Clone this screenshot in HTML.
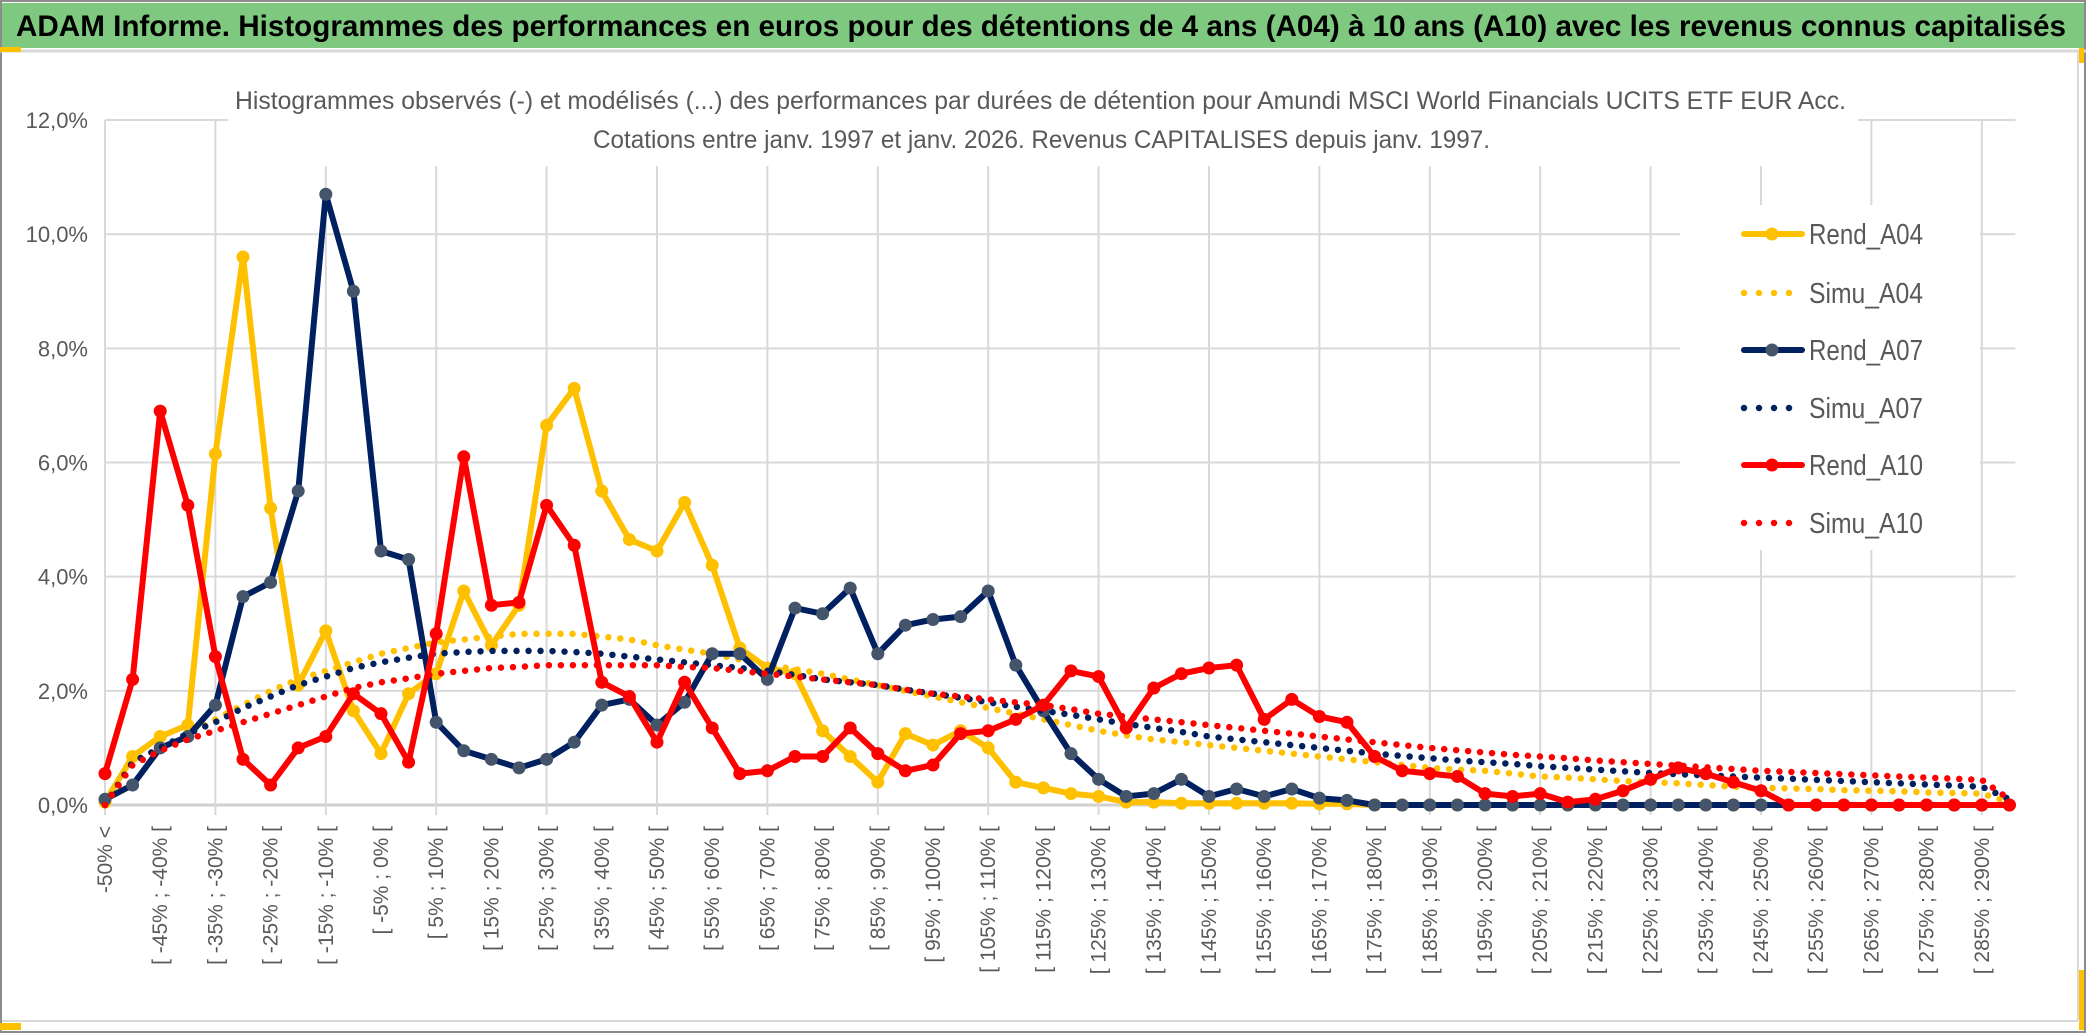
<!DOCTYPE html>
<html><head><meta charset="utf-8"><style>
html,body{margin:0;padding:0;background:#fff;width:2086px;height:1033px;overflow:hidden}
svg{display:block}
text{font-family:"Liberation Sans Narrow","Liberation Sans",sans-serif}
</style></head><body>
<svg id="chart" width="2086" height="1033" viewBox="0 0 2086 1033">
<rect x="0" y="0" width="2086" height="1033" fill="#fff"/>
<rect x="1" y="1" width="2084" height="1031" fill="none" stroke="#8c8c8c" stroke-width="2"/>
<rect x="2" y="3" width="2082" height="45" fill="#7ec87f"/>
<line x1="0" y1="51" x2="2086" y2="51" stroke="#d9d9d9" stroke-width="3"/>
<rect x="0" y="47" width="21" height="5" fill="#ffc000"/>
<rect x="0" y="1023" width="21" height="7" fill="#ffc000"/>
<rect x="2079" y="970" width="5" height="60" fill="#ffc000"/>
<rect x="2079" y="48" width="5" height="15" fill="#ffc000"/>
<line x1="2" y1="1021" x2="2080" y2="1021" stroke="#d9d9d9" stroke-width="2"/>
<line x1="2078" y1="52" x2="2078" y2="1021" stroke="#d9d9d9" stroke-width="2"/>
<text x="16" y="36" font-size="30" font-weight="bold" fill="#000" textLength="2050" lengthAdjust="spacingAndGlyphs">ADAM Informe. Histogrammes des performances en euros pour des détentions de 4 ans (A04) à 10 ans (A10) avec les revenus connus capitalisés</text>
<g id="grid"></g>
<g id="yaxis"></g>
<g id="xaxis"></g>
<rect x="228" y="78" width="1630" height="88" fill="#fff"/>
<text x="235" y="109" font-size="25" fill="#595959" textLength="1611" lengthAdjust="spacingAndGlyphs">Histogrammes observés (-) et modélisés (...) des performances par durées de détention pour Amundi MSCI World Financials UCITS ETF EUR Acc.</text>
<text x="593" y="148" font-size="25" fill="#595959" textLength="897" lengthAdjust="spacingAndGlyphs">Cotations entre janv. 1997 et janv. 2026. Revenus CAPITALISES depuis janv. 1997.</text>
<g id="series"></g>
<g id="legend"></g>
</svg>
<script>
const categoryCount = 70;
const yTicks = [0, 2, 4, 6, 8, 10, 12];
const rendA04 = [0.05,0.85,1.2,1.4,6.15,9.6,5.2,2.1,3.05,1.65,0.9,1.95,2.3,3.75,2.8,3.5,6.65,7.3,5.5,4.65,4.45,5.3,4.2,2.75,2.4,2.3,1.3,0.85,0.4,1.25,1.05,1.3,1.0,0.4,0.3,0.2,0.15,0.05,0.05,0.03,0.03,0.03,0.03,0.03,0.02,0.02,0,0,0,0,0,0,0,0,0,0,0,0,0,0,0,0,0,0,0,0,0,0,0,0];
const simuA04 = [0,0.75,1.0,1.25,1.5,1.75,2.0,2.2,2.35,2.5,2.65,2.75,2.85,2.9,2.95,3.0,3.0,3.0,2.95,2.9,2.8,2.72,2.65,2.55,2.45,2.38,2.3,2.2,2.1,2.0,1.9,1.8,1.7,1.6,1.5,1.4,1.3,1.22,1.15,1.1,1.05,1.0,0.95,0.9,0.85,0.8,0.75,0.7,0.65,0.62,0.6,0.55,0.5,0.48,0.45,0.42,0.4,0.38,0.35,0.32,0.3,0.29,0.28,0.26,0.25,0.24,0.22,0.21,0.2,0.05];
const rendA07 = [0.1,0.35,1.0,1.2,1.75,3.65,3.9,5.5,10.7,9.0,4.45,4.3,1.45,0.95,0.8,0.65,0.8,1.1,1.75,1.85,1.4,1.8,2.65,2.65,2.2,3.45,3.35,3.8,2.65,3.15,3.25,3.3,3.75,2.45,1.65,0.9,0.45,0.15,0.2,0.45,0.15,0.28,0.15,0.28,0.12,0.08,0,0,0,0,0,0,0,0,0,0,0,0,0,0,0,0,0,0,0,0,0,0,0,0];
const simuA07 = [0,0.75,1.0,1.25,1.45,1.7,1.9,2.1,2.25,2.4,2.5,2.58,2.65,2.68,2.7,2.7,2.7,2.68,2.65,2.6,2.55,2.5,2.45,2.4,2.35,2.28,2.2,2.15,2.1,2.02,1.95,1.88,1.8,1.72,1.65,1.58,1.5,1.42,1.35,1.28,1.2,1.15,1.1,1.05,1.0,0.95,0.9,0.86,0.82,0.78,0.75,0.72,0.68,0.65,0.62,0.59,0.56,0.54,0.52,0.5,0.48,0.46,0.44,0.42,0.4,0.38,0.36,0.34,0.32,0.1];
const rendA10 = [0.55,2.2,6.9,5.25,2.6,0.8,0.35,1.0,1.2,1.95,1.6,0.75,3.0,6.1,3.5,3.55,5.25,4.55,2.15,1.9,1.1,2.15,1.35,0.55,0.6,0.85,0.85,1.35,0.9,0.6,0.7,1.25,1.3,1.5,1.75,2.35,2.25,1.35,2.05,2.3,2.4,2.45,1.5,1.85,1.55,1.45,0.85,0.6,0.55,0.5,0.2,0.15,0.2,0.05,0.1,0.25,0.45,0.65,0.55,0.4,0.25,0,0,0,0,0,0,0,0,0];
const simuA10 = [0,0.7,0.95,1.15,1.3,1.45,1.6,1.75,1.9,2.05,2.15,2.22,2.3,2.35,2.4,2.42,2.45,2.45,2.45,2.45,2.45,2.42,2.4,2.35,2.3,2.25,2.2,2.15,2.1,2.02,1.95,1.9,1.85,1.8,1.75,1.68,1.6,1.55,1.5,1.45,1.4,1.35,1.3,1.25,1.2,1.15,1.1,1.05,1.0,0.96,0.92,0.88,0.85,0.82,0.78,0.75,0.72,0.69,0.66,0.63,0.6,0.58,0.56,0.54,0.52,0.5,0.48,0.46,0.44,0.1];
const seriesNames = ["Rend_A04","Simu_A04","Rend_A07","Simu_A07","Rend_A10","Simu_A10"];

const NS = "http://www.w3.org/2000/svg";
const X0 = 105, DX = 27.6, Y0 = 805, YPX = 57.08;
function xs(i){ return X0 + i*DX; }
function ys(v){ return Y0 - v*YPX; }
function mk(tag, attrs, parent){
  const e = document.createElementNS(NS, tag);
  for (const k in attrs) e.setAttribute(k, attrs[k]);
  parent.appendChild(e);
  return e;
}
const grid = document.getElementById('grid');
const yaxis = document.getElementById('yaxis');
const xaxis = document.getElementById('xaxis');
const xEnd = xs(categoryCount - 1) + 6;
yTicks.forEach(t => {
  const l = mk('line', {x1: X0, x2: xEnd, y1: ys(t), y2: ys(t), stroke: t === 0 ? '#d0d0d0' : '#d9d9d9', 'stroke-width': t === 0 ? 3 : 2}, grid);
  
  
  const tx = mk('text', {x: 88, y: ys(t) + 8, 'text-anchor': 'end', 'font-size': 22, fill: '#595959'}, yaxis);
  tx.textContent = t.toFixed(1).replace('.', ',') + '%';
  
  
});
for (let i = 0; i < categoryCount; i += 4) {
  const l = mk('line', {x1: xs(i), x2: xs(i), y1: ys(12), y2: Y0 + 10, stroke: '#d9d9d9', 'stroke-width': 2}, grid);
  
  
}
for (let i = 0; i < categoryCount; i += 2) {
  let label;
  if (i === 0) label = '-50% <';
  else { const k = (i - 1) * 5 - 50; label = '[ ' + k + '% ; ' + (k + 5) + '% ['; }
  const x = xs(i) + 7, y = 826;
  const tx = mk('text', {x: x, y: y, transform: 'rotate(-90 ' + x + ' ' + y + ')', 'text-anchor': 'end', 'font-size': 21, fill: '#595959', 'font-family': '"Liberation Sans", sans-serif'}, xaxis);
  tx.textContent = label;
  
  
}
const sg = document.getElementById('series');
function pts(arr){ return arr.map((v, i) => xs(i).toFixed(1) + ',' + ys(v).toFixed(1)).join(' '); }
function solid(arr, color, markerColor, name){
  const p = mk('polyline', {points: pts(arr), fill: 'none', stroke: color, 'stroke-width': 6, 'stroke-linejoin': 'round', 'stroke-linecap': 'round'}, sg);
  
  
  arr.forEach((v, i) => {
    const c = mk('circle', {cx: xs(i), cy: ys(v), r: 6.5, fill: markerColor}, sg);
    
    
  });
}
function dotted(arr, color, name){
  const p = mk('polyline', {points: pts(arr), fill: 'none', stroke: color, 'stroke-width': 6.5, 'stroke-linecap': 'round', 'stroke-dasharray': '0 12'}, sg);
  
  
}
solid(rendA04, '#ffc000', '#ffc000', 'rend-a04');
dotted(simuA04, '#ffc000', 'simu-a04');
solid(rendA07, '#002060', '#44546a', 'rend-a07');
dotted(simuA07, '#002060', 'simu-a07');
solid(rendA10, '#ff0000', '#ff0000', 'rend-a10');
dotted(simuA10, '#ff0000', 'simu-a10');

const lg = document.getElementById('legend');
const lbg = mk('rect', {x: 1680, y: 205, width: 300, height: 345, fill: '#fff'}, lg);


const legendColors = ['#ffc000','#ffc000','#002060','#002060','#ff0000','#ff0000'];
const legendMarkers = ['#ffc000',null,'#44546a',null,'#ff0000',null];
const legendY = [234,293,350,408,465,523];
seriesNames.forEach((n, k) => {
  const g = mk('g', {}, lg);
  
  
  const y = legendY[k];
  if (legendMarkers[k]) {
    mk('line', {x1: 1744, x2: 1802, y1: y, y2: y, stroke: legendColors[k], 'stroke-width': 6, 'stroke-linecap': 'round'}, g);
    mk('circle', {cx: 1772, cy: y, r: 6.5, fill: legendMarkers[k]}, g);
  } else {
    mk('line', {x1: 1744, x2: 1802, y1: y, y2: y, stroke: legendColors[k], 'stroke-width': 6.5, 'stroke-linecap': 'round', 'stroke-dasharray': '0 15'}, g);
  }
  const t = mk('text', {x: 1809, y: y + 10, 'font-size': 29, fill: '#595959', textLength: 114, lengthAdjust: 'spacingAndGlyphs'}, g);
  t.textContent = n;
});
</script>
</body></html>
